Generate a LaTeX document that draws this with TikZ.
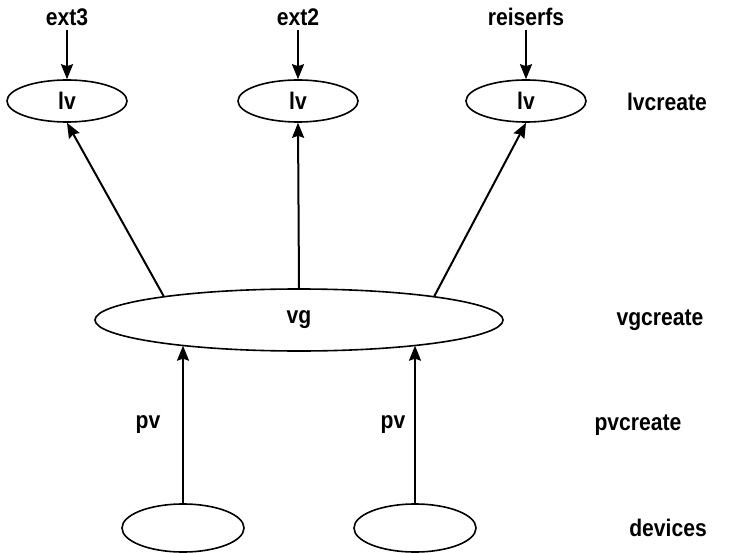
\documentclass[tikz,border=0pt]{standalone}
\usepackage{fontspec}
\setmainfont{Liberation Sans}[FakeStretch=0.88]
\usetikzlibrary{arrows.meta, positioning, shapes.geometric}

\begin{document}
\begin{tikzpicture}[
    x=1pt, y=1pt,
    font=\fontsize{24}{28}\selectfont\bfseries,
    vol/.style={draw, ellipse, line width=1.6pt, inner sep=0pt, minimum width=120pt, minimum height=42pt},
    group/.style={draw, ellipse, line width=1.6pt, inner sep=0pt, minimum width=408pt, minimum height=62pt},
    dev/.style={draw, ellipse, line width=1.6pt, inner sep=0pt, minimum width=122pt, minimum height=48pt},
    lbl/.style={inner sep=0pt},
    arrow/.style={-{Stealth[length=15pt, width=12pt, inset=2pt]}, line width=2pt},
]
    \useasboundingbox (0,0) rectangle (735,-553);

    % Logical volumes
    \node[vol] (lv1) at (67,-101) {lv};
    \node[vol] (lv2) at (298,-101) {lv};
    \node[vol] (lv3) at (526,-101) {lv};

    \node[lbl] (fs1) at (67,-17) {ext3};
    \node[lbl] (fs2) at (298,-17) {ext2};
    \node[lbl] (fs3) at (526,-17) {reiserfs};

    % Volume group and devices
    \node[group] (vg) at (299,-320) {vg};
    \node[dev] (dev1) at (183,-528) {};
    \node[dev] (dev2) at (415,-528) {};

    \node[lbl] (pv1) at (148,-425) {pv};
    \node[lbl] (pv2) at (393,-425) {pv};

    % Commands
    \node[lbl] (lvc) at (667,-102) {lvcreate};
    \node[lbl] (vgc) at (660,-320) {vgcreate};
    \node[lbl] (pvc) at (638,-425) {pvcreate};
    \node[lbl] (devs) at (668,-528) {devices};

    % Arrows
    \draw[arrow] (fs1.south) ++(0,-4) -- (lv1.north);
    \draw[arrow] (fs2.south) ++(0,-4) -- (lv2.north);
    \draw[arrow] (fs3.south) ++(0,-4) -- (lv3.north);

    \draw[arrow] (vg.170) -- (lv1.south);
    \draw[arrow] (vg.north) -- (lv2.south);
    \draw[arrow] (vg.10) -- (lv3.south);

    \draw[arrow] (dev1.north) -- (dev1.north |- vg.192);
    \draw[arrow] (dev2.north) -- (dev2.north |- vg.348);

\end{tikzpicture}
\end{document}
